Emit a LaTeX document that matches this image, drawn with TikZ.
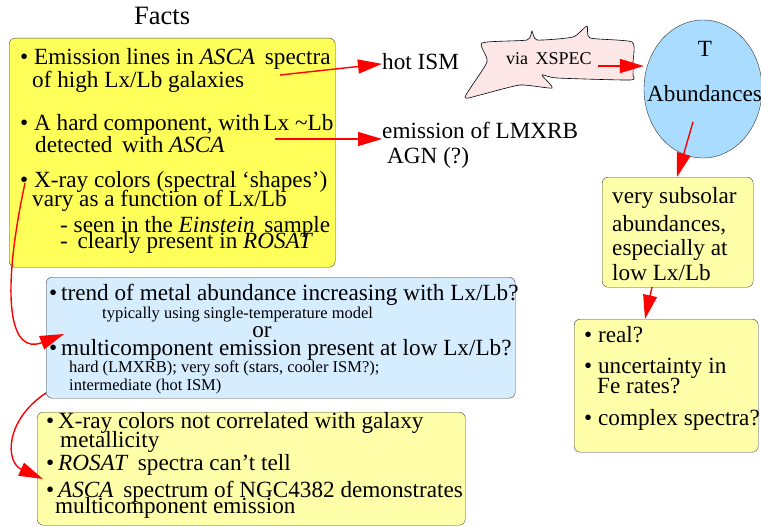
\documentclass[tikz,border=0pt]{standalone}
\usepackage{fontspec}
\setmainfont{Liberation Serif}
\usetikzlibrary{arrows.meta,shapes}
\definecolor{brightyellow}{RGB}{255,255,90}
\definecolor{paleyellow}{RGB}{255,255,170}
\definecolor{paleblue}{RGB}{214,236,255}
\definecolor{skyblue}{RGB}{170,220,255}
\definecolor{cloudpink}{RGB}{253,230,230}
\tikzstyle{panel}=[draw=black!75,rounded corners=6pt,anchor=north west,inner sep=0pt]
\tikzstyle{txt}=[anchor=base west,inner sep=0pt,text height=1.45ex,text depth=0.1ex,font=\fontsize{23.2}{24}\selectfont]
\tikzstyle{smalltxt}=[anchor=base west,inner sep=0pt,text height=1.45ex,text depth=0.1ex,font=\fontsize{16.5}{18}\selectfont]
\tikzstyle{link}=[draw=red,line width=1.4pt,-{Triangle[length=24pt,width=14pt]}]

\begin{document}
\begin{tikzpicture}[x=1pt,y=-1pt]
    \useasboundingbox (0,0) rectangle (761,527);
    % title
    \node[txt,font=\fontsize{26.5}{28}\selectfont] (title) at (134,25) {Facts};
    % the boxes
    \node[panel,fill=brightyellow,minimum width=326pt,minimum height=229pt] (facts) at (9,38) {};
    \node[panel,fill=paleblue,minimum width=469pt,minimum height=121pt] (trend) at (46,277) {};
    \node[panel,fill=paleyellow,minimum width=428pt,minimum height=113pt] (colors) at (37,412) {};
    \node[panel,fill=paleyellow,minimum width=151pt,minimum height=110pt] (subsolar) at (602,177) {};
    \node[panel,fill=paleyellow,minimum width=184pt,minimum height=133pt] (real) at (574,319) {};
    \node[ellipse,draw=black!80,fill=skyblue,minimum width=118pt,minimum height=138pt] (abund) at (703,89) {};
    % cloud
    \draw[fill=cloudpink,line width=0.6pt] plot[smooth cycle,tension=0.35] coordinates {
        (465,97) (487,62) (482,43) (527,40) (532,31) (537,40) (573,37) (587,26)
        (590,38) (632,42) (633,62) (633,75) (630,80) (557,78) (542,75) (552,88)
        (520,85) (480,95)};
    % facts text
    \foreach \pos/\name/\line in {{(20,65)}/f1/{\textbullet\ Emission lines in \textit{ASCA}\, spectra},
                                  {(32,88)}/f2/{of high Lx/Lb galaxies},
                                  {(20,130)}/f3/{\textbullet\ A hard component, with\,Lx \textasciitilde Lb},
                                  {(35,152)}/f4/{detected\, with \textit{ASCA}},
                                  {(20,187)}/f5/{\textbullet\ X-ray colors (spectral ‘shapes’)},
                                  {(32,206)}/f6/{vary as a function of Lx/Lb},
                                  {(60,232)}/f7/{- seen in the \textit{Einstein}\, sample},
                                  {(60,248)}/f8/{-\, clearly present in \textit{ROSAT}}}
        \node[txt] (\name) at \pos {\line};
    % results
    \node[txt] (hotism) at (382,70) {hot ISM};
    \node[txt] (lmxrb) at (382,138) {emission of LMXRB};
    \node[txt] (agn) at (387,163) {AGN (?)};
    \node[txt,font=\fontsize{18}{20}\selectfont] (xspec) at (506,65) {via\, XSPEC};
    \node[txt,anchor=base] (temp) at (705,57) {T};
    \node[txt] (abtext) at (647,102) {Abundances};
    % subsolar and questions
    \foreach \pos/\name/\line in {{(612,203)}/s1/{very subsolar},
                                  {(612,231)}/s2/{abundances,},
                                  {(612,255)}/s3/{especially at},
                                  {(612,280)}/s4/{low Lx/Lb},
                                  {(584,342)}/q1/{\textbullet\ real?},
                                  {(584,373)}/q2/{\textbullet\ uncertainty in},
                                  {(597,393)}/q3/{Fe rates?},
                                  {(584,425)}/q4/{\textbullet\ complex spectra?}}
        \node[txt] (\name) at \pos {\line};
    % trend text
    \node[txt] (t1) at (49,300) {\textbullet\,trend of metal abundance increasing with Lx/Lb?};
    \node[smalltxt] (t2) at (102,318) {typically using single-temperature model};
    \node[txt,anchor=base] (t3) at (262,337) {or};
    \node[txt] (t4) at (49,355) {\textbullet\,multicomponent emission present at low Lx/Lb?};
    \node[smalltxt] (t5) at (69,372) {hard (LMXRB); very soft (stars, cooler ISM?);};
    \node[smalltxt] (t6) at (69,390) {intermediate (hot ISM)};
    % colors text
    \node[txt] (c1) at (46,428) {\textbullet\,X-ray colors not correlated with galaxy};
    \node[txt] (c2) at (60,447) {metallicity};
    \node[txt] (c3) at (46,470) {\textbullet\,\textit{ROSAT}\, spectra can’t tell};
    \node[txt] (c4) at (46,497) {\textbullet\,\textit{ASCA}\, spectrum of NGC4382 demonstrates};
    \node[txt] (c5) at (55,513) {multicomponent emission};
    % arrow ends
    \coordinate (a1) at (280,75);
    \coordinate (a2) at (275,139);
    \coordinate (a3) at (598,66);
    \coordinate (a4) at (693,122);
    \coordinate (a4end) at (677,177);
    \coordinate (a5) at (652,287);
    \coordinate (a5end) at (645,319);
    \coordinate (a6) at (25,183);
    \coordinate (a6end) at (64,334);
    \coordinate (a7) at (46,393);
    \coordinate (a7end) at (43,479);
    \path[link] (a1) -- ([yshift=3pt]hotism.west);
    \path[link] (a2) -- (lmxrb.west |- a2);
    \path[link] (a3) -- (abund.west |- a3);
    \path[link] (a4) -- (a4end);
    \path[link] (a5) -- (a5end);
    \path[link] (a6) .. controls (0,300) and (10,355) .. (a6end);
    \path[link] (a7) .. controls (5,420) and (5,462) .. (a7end);
\end{tikzpicture}
\end{document}
